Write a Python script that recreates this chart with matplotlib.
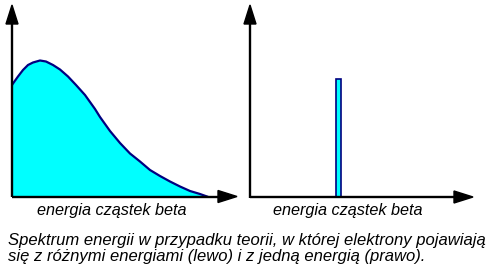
import matplotlib
matplotlib.use("Agg")
import matplotlib.pyplot as plt
from matplotlib.patches import Polygon

# Data
left_energy = [0, 1, 6, 11, 16, 21, 28, 34, 41, 48, 56, 64, 73, 83, 88, 98,
               108, 118, 128, 138, 148, 158, 168, 178, 188, 195]
left_counts = [111.5, 113, 120, 126.5, 131.5, 134, 136, 135, 131.5, 127, 120,
               111.5, 101.5, 87.5, 79.5, 65.5, 53.5, 43, 35, 26.5, 20.5, 15,
               10, 5.5, 2.5, 0]
right_energy = [88.5]
right_counts = [118]
right_width = 5.6
xlabel = "energia cząstek beta"
caption_lines = ["Spektrum energii w przypadku teorii, w której elektrony pojawiają",
                 "się z różnymi energiami (lewo) i z jedną energią (prawo)."]

W, H = 500, 280
fig = plt.figure(figsize=(5, 2.8), dpi=100)
fig.patch.set_facecolor("white")

FONT = "Liberation Sans"
fill_c = "#00FFFF"
edge_c = "#000080"

def px_axes(x0, x1, ytop, ybot):
    return fig.add_axes([x0 / W, (H - ybot) / H, (x1 - x0) / W, (ybot - ytop) / H])

# overlay for axis lines and arrows in pixel coordinates
ov = fig.add_axes([0, 0, 1, 1], zorder=5)
ov.set_xlim(0, W)
ov.set_ylim(H, 0)
ov.axis("off")
ov.patch.set_alpha(0)

def draw_axes_arrows(x0, ybot, xtip, ytip):
    ov.plot([x0, xtip - 10], [ybot, ybot], color="black", lw=1.7, solid_capstyle="butt")
    ov.plot([x0, x0], [ybot + 0.8, ytip + 10], color="black", lw=1.7, solid_capstyle="butt")
    ov.add_patch(Polygon([[xtip, ybot], [xtip - 19, ybot - 6], [xtip - 19, ybot + 6]],
                         closed=True, color="black"))
    ov.add_patch(Polygon([[x0, ytip], [x0 - 6, ytip + 19], [x0 + 6, ytip + 19]],
                         closed=True, color="black"))

# Left chart
axL = px_axes(12, 237, 5, 196.5)
axL.set_xlim(0, 225)
axL.set_ylim(0, 191.5)
axL.axis("off")
axL.fill_between(left_energy, left_counts, 0, color=fill_c, lw=0)
axL.plot(left_energy, left_counts, color=edge_c, lw=1.6)
draw_axes_arrows(12, 196.5, 237, 5)

# Right chart
axR = px_axes(250, 473, 5, 197)
axR.set_xlim(0, 223)
axR.set_ylim(0, 192)
axR.axis("off")
axR.bar(right_energy, right_counts, width=right_width, color=fill_c,
        edgecolor=edge_c, linewidth=1.2)
draw_axes_arrows(250, 197, 473, 5)

# labels
ov.text(112, 211, xlabel, ha="center", va="center", fontsize=11.7,
        style="italic", family=FONT)
ov.text(348, 210, xlabel, ha="center", va="center", fontsize=11.7,
        style="italic", family=FONT)
ov.text(8, 240, caption_lines[0], ha="left", va="center", fontsize=12,
        style="italic", family=FONT)
ov.text(8, 257, caption_lines[1], ha="left", va="center", fontsize=12,
        style="italic", family=FONT)

fig.savefig("out.png", dpi=100, facecolor="white")
